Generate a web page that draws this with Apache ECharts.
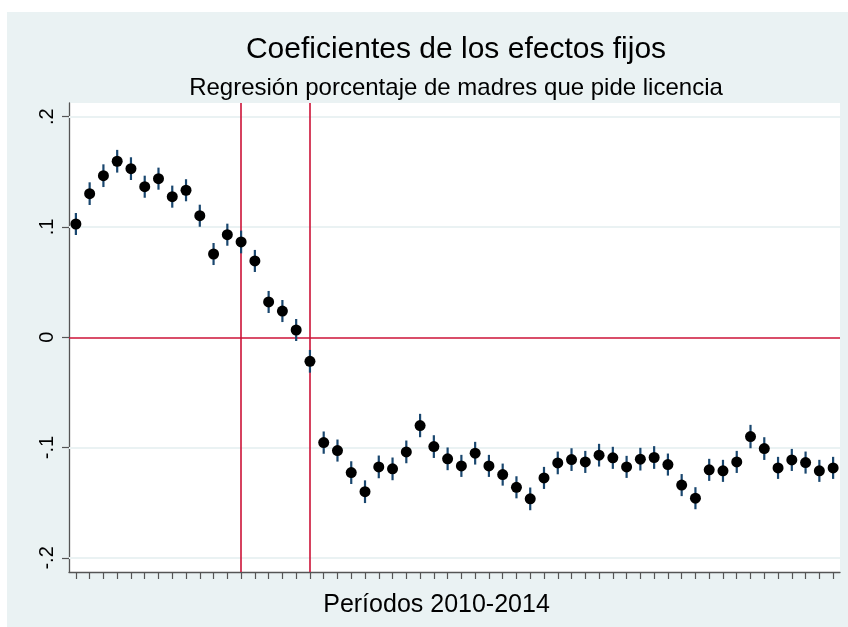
<!DOCTYPE html>
<html>
<head>
<meta charset="utf-8">
<script src="https://cdn.jsdelivr.net/npm/echarts@6/dist/echarts.min.js"></script>
<style>
html,body{margin:0;padding:0;background:#fff;}
#chart{width:848px;height:627px;}
</style>
</head>
<body>
<div id="chart"></div>
<script>
// ---- data ----
const periods = ['1','2','3','4','5','6','7','8','9','10','11','12','13','14','15','16','17','18','19','20',
  '21','22','23','24','25','26','27','28','29','30','31','32','33','34','35','36','37','38','39','40',
  '41','42','43','44','45','46','47','48','49','50','51','52','53','54','55','56'];
const coef = [0.1027, 0.1302, 0.1465, 0.1596, 0.1529, 0.1365, 0.1438, 0.1275, 0.1333, 0.1102, 0.0755, 0.0930, 0.0864, 0.0692, 0.0320, 0.0238, 0.0066, -0.0218,
  -0.0955, -0.1027, -0.1227, -0.1400, -0.1175, -0.1193, -0.1039, -0.0800, -0.0991, -0.1102, -0.1166, -0.1051, -0.1166, -0.1245, -0.1360, -0.1465, -0.1275, -0.1139, -0.1109,
  -0.1130, -0.1069, -0.1093, -0.1175, -0.1105, -0.1090, -0.1154, -0.1340, -0.1459, -0.1202, -0.1211, -0.1130, -0.0900, -0.1009, -0.1184, -0.1112, -0.1136, -0.1211, -0.1184];
const halfCI = [0.0100, 0.0103, 0.0103, 0.0103, 0.0103, 0.0100, 0.0100, 0.0100, 0.0100, 0.0100, 0.0100, 0.0100, 0.0103, 0.0100, 0.0100, 0.0100, 0.0100, 0.0103,
  0.0101, 0.0100, 0.0103, 0.0103, 0.0103, 0.0103, 0.0103, 0.0106, 0.0103, 0.0103, 0.0100, 0.0103, 0.0100, 0.0100, 0.0100, 0.0103, 0.0100, 0.0103, 0.0103,
  0.0100, 0.0103, 0.0100, 0.0100, 0.0103, 0.0103, 0.0100, 0.0100, 0.0100, 0.0100, 0.0100, 0.0100, 0.0106, 0.0103, 0.0100, 0.0100, 0.0100, 0.0100, 0.0100];
const yTicks = [-0.2, -0.1, 0, 0.1, 0.2];
const gridValues = [-0.2, -0.1, 0.1, 0.2];
const zeroLine = 0;
const eventPeriods = ['13', '18'];
const titleText = 'Coeficientes de los efectos fijos';
const subtitleText = 'Regresión porcentaje de madres que pide licencia';
const xTitle = 'Períodos 2010-2014';

const FONT = '"Liberation Sans", Arial, sans-serif';
const BG = '#EAF2F3';
const RED = '#cc1237';

const chart = echarts.init(document.getElementById('chart'));

const errData = periods.map((p, i) => [i, coef[i] - halfCI[i], coef[i] + halfCI[i]]);

chart.setOption({
  backgroundColor: '#ffffff',
  animation: false,
  graphic: {
    elements: [{
      type: 'rect', silent: true, z: -100,
      shape: { x: 7, y: 12, width: 841, height: 615 },
      style: { fill: BG }
    }]
  },
  title: [
    { text: titleText, left: 456, top: 35, padding: 0, textAlign: 'center',
      textStyle: { fontFamily: FONT, fontSize: 30, fontWeight: 'normal', color: '#000' } },
    { text: subtitleText, left: 456, top: 76, padding: 0, textAlign: 'center',
      textStyle: { fontFamily: FONT, fontSize: 24, fontWeight: 'normal', color: '#000' } }
  ],
  grid: {
    left: 69, right: 8, top: 103, bottom: 55,
    show: true, backgroundColor: '#ffffff', borderWidth: 0
  },
  xAxis: {
    type: 'category',
    data: periods,
    boundaryGap: true,
    name: xTitle,
    nameLocation: 'middle',
    nameGap: 21,
    nameTextStyle: { fontFamily: FONT, fontSize: 25, color: '#000', padding: [0, 36, 0, 0], verticalAlign: 'top' },
    axisLine: { onZero: false, lineStyle: { color: '#555', width: 1.3 } },
    axisTick: { show: true, alignWithLabel: true, interval: 0, length: 7, lineStyle: { color: '#555', width: 1.2 } },
    axisLabel: { show: true, interval: 0, formatter: () => '' },
    splitLine: { show: false }
  },
  yAxis: {
    type: 'value',
    min: -0.2128, max: 0.2124,
    axisLine: { show: true, lineStyle: { color: '#555', width: 1.3 } },
    axisTick: { show: true, customValues: yTicks, length: 7, lineStyle: { color: '#555', width: 1.2 } },
    axisLabel: {
      customValues: yTicks, rotate: 90, margin: 12,
      fontFamily: FONT, fontSize: 20, color: '#000',
      formatter: v => v === 0 ? '0' : (v < 0 ? '-' : '') + String(Math.abs(v)).replace(/^0/, '')
    },
    splitLine: { show: false }
  },
  series: [
    {
      type: 'scatter', data: [], z: 1, silent: true,
      markLine: {
        z: 1, silent: true, symbol: 'none', label: { show: false }, animation: false,
        lineStyle: { color: BG, width: 2, type: 'solid' },
        data: gridValues.map(v => ({ yAxis: v }))
      }
    },
    {
      type: 'scatter', data: [], z: 2, silent: true,
      markLine: {
        z: 2, silent: true, symbol: 'none', label: { show: false }, animation: false,
        lineStyle: { color: RED, width: 1.6, type: 'solid' },
        data: [{ yAxis: zeroLine }].concat(eventPeriods.map(p => ({ xAxis: p })))
      }
    },
    {
      type: 'custom', z: 3, silent: true,
      data: errData,
      renderItem: function (params, api) {
        const a = api.coord([api.value(0), api.value(1)]);
        const b = api.coord([api.value(0), api.value(2)]);
        return { type: 'line', shape: { x1: a[0], y1: a[1], x2: b[0], y2: b[1] },
          style: { stroke: '#1a476f', lineWidth: 2.2 } };
      }
    },
    {
      type: 'scatter', z: 4,
      data: coef.map((v, i) => [i, v]),
      symbol: 'circle', symbolSize: 11,
      itemStyle: { color: '#000', opacity: 1 }
    }
  ]
});
</script>
</body>
</html>
